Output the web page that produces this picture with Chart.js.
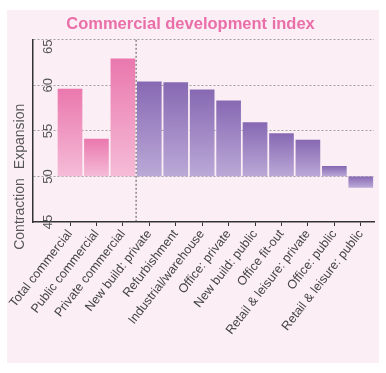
<!DOCTYPE html>
<html lang="en">
<head>
  <meta charset="UTF-8">
  <title>Commercial development index</title>
  <script src="https://cdn.jsdelivr.net/npm/chart.js@4.4.1/dist/chart.umd.min.js"></script>
  <style>
    body {
      margin: 0;
      background: #fff;
    }

    .panel {
      position: absolute;
      left: 7px;
      top: 10px;
      width: 372px;
      height: 353px;
      background: #fbeef5;
    }
  </style>
</head>
<body>

  <div class="panel"><canvas id="chart"></canvas></div>

  <script>
    const categories = [
      "Total commercial", "Public commercial", "Private commercial",
      "New build: private", "Refurbishment", "Industrial/warehouse",
      "Office: private", "New build: public", "Office fit-out",
      "Retail & leisure: private", "Office: public", "Retail & leisure: public"
    ];
    const values = [59.6, 54.1, 62.9, 60.4, 60.3, 59.5, 58.3, 55.9, 54.7, 54.0, 51.1, 48.8];
    const headlineCount = 3;      // first bars are the pink headline group
    const yTicks = [45, 50, 55, 60, 65];
    const baseline = 50;

    const font = "'Liberation Sans', Arial, sans-serif";

    function barFill(c) {
      const chart = c.chart;
      const y = chart.scales.y;
      const pink = c.dataIndex < headlineCount;
      if (!y || y.top === undefined) return pink ? '#ee93be' : '#a08ac4';
      const v = values[c.dataIndex];
      const top = y.getPixelForValue(Math.max(v, baseline));
      const bottom = y.getPixelForValue(Math.min(v, baseline));
      const g = chart.ctx.createLinearGradient(0, top, 0, bottom + 0.1);
      if (pink) {
        g.addColorStop(0, '#ea78ae');
        g.addColorStop(1, '#f5bcd7');
      } else {
        g.addColorStop(0, '#8769b3');
        g.addColorStop(1, '#bba9d7');
      }
      return g;
    }

    // y labels sit inside the axis, rotated; side notes and group divider
    const overlay = {
      id: 'overlay',
      beforeDatasetsDraw(chart) {
        const { ctx, chartArea, scales: { x } } = chart;
        const dx = x.getPixelForValue(headlineCount - 0.5);
        ctx.save();
        ctx.strokeStyle = '#555';
        ctx.lineWidth = 1;
        ctx.setLineDash([2, 2]);
        ctx.beginPath();
        ctx.moveTo(dx, chartArea.top);
        ctx.lineTo(dx, chartArea.bottom);
        ctx.stroke();
        ctx.restore();
      },
      afterDraw(chart) {
        const { ctx, chartArea, scales: { y } } = chart;
        ctx.save();
        ctx.fillStyle = '#555';
        ctx.textAlign = 'center';
        ctx.textBaseline = 'middle';
        ctx.font = '13px ' + font;
        yTicks.forEach(v => {
          const py = Math.max(y.getPixelForValue(v), chartArea.top + 7);
          ctx.save();
          ctx.translate(chartArea.left + 15, py);
          ctx.rotate(-Math.PI / 2);
          ctx.fillText(String(v), 0, 0);
          ctx.restore();
        });
        ctx.font = '14px ' + font;
        const side = [
          ['Expansion', y.getPixelForValue(baseline) - 40],
          ['Contraction', y.getPixelForValue(45) - 8]
        ];
        side.forEach(([t, py]) => {
          ctx.save();
          ctx.translate(chartArea.left - 13, py);
          ctx.rotate(-Math.PI / 2);
          ctx.fillText(t, 0, 0);
          ctx.restore();
        });
        ctx.restore();
      }
    };

    new Chart(document.getElementById('chart'), {
      type: 'bar',
      data: {
        datasets: [{
          data: values.map((v, i) => ({ x: i, y: v })),
          base: baseline,
          backgroundColor: barFill,
          borderWidth: 0,
          barThickness: 24
        }]
      },
      options: {
        animation: false,
        responsive: true,
        maintainAspectRatio: false,
        layout: { padding: { left: 0, right: 5, top: 0, bottom: 0 } },
        plugins: {
          legend: { display: false },
          tooltip: { enabled: false },
          title: {
            display: true,
            text: 'Commercial development index',
            color: '#ea6fa8',
            font: { family: font, size: 16.5, weight: 'bold' },
            padding: { top: 5, bottom: 5 }
          }
        },
        scales: {
          x: {
            type: 'linear',
            offset: false,
            min: -1.4,
            max: 11.5,
            afterBuildTicks: s => { s.ticks = categories.map((_, i) => ({ value: i })); },
            afterFit: s => { s.height = 141; s.paddingLeft = 0; s.paddingRight = 0; },
            grid: { offset: false, drawOnChartArea: false, tickLength: 4, tickColor: '#333' },
            border: { color: '#333', width: 1.5 },
            ticks: {
              autoSkip: false,
              minRotation: 52,
              maxRotation: 52,
              padding: 1,
              color: '#444',
              font: { family: font, size: 12.5 },
              callback: v => categories[v] ?? ''
            }
          },
          y: {
            min: 45,
            max: 65,
            afterBuildTicks: s => { s.ticks = yTicks.map(v => ({ value: v })); },
            afterFit: s => { s.width = 26; },
            ticks: { display: false },
            grid: {
              drawTicks: false,
              lineWidth: 1,
              color: c => c.tick && c.tick.value === 45 ? 'rgba(0,0,0,0)' : '#a0a0a0'
            },
            border: { color: '#333', width: 1.5, dash: [2, 2] }
          }
        }
      },
      plugins: [overlay]
    });
  </script>

</body>
</html>
